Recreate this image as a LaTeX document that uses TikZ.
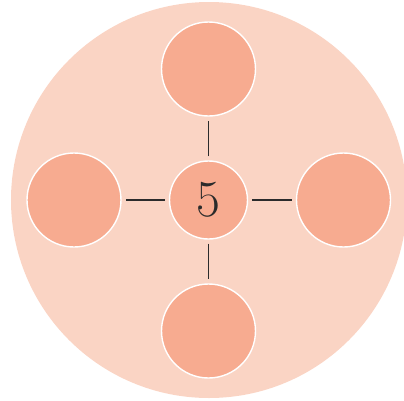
\documentclass[tikz,border=0pt]{standalone}
\usepackage{xcolor}
\usepackage{tikz}
\usetikzlibrary{positioning}
\definecolor{discpink}{HTML}{FAD4C4}
\definecolor{ballpink}{HTML}{F7AB90}
\definecolor{linegray}{HTML}{2B2B2B}

\begin{document}
\begin{tikzpicture}[x=1pt, y=1pt, every node/.style={inner sep=0pt}]
  \useasboundingbox (-208.5,-200) rectangle (195.5,200);
  \clip (-208.5,-200) rectangle (195.5,200);
  \fill[discpink] (0.5,0) circle (198);
  \tikzset{ball/.style={circle,fill=ballpink,draw=white,line width=1.4pt,minimum size=94pt}}
  \node[circle,fill=ballpink,draw=white,line width=1.4pt,minimum size=78pt,text=linegray,font=\fontsize{52}{52}\selectfont] (mid) at (0,0) {5};
  \node[ball] (top) at (0,131) {};
  \node[ball] (bot) at (0,-131) {};
  \node[ball] (lft) at (-134.5,0) {};
  \node[ball] (rgt) at (135,0) {};
  \foreach \n in {top,bot,lft,rgt}
    \draw[linegray,line width=1.4pt,shorten <=4pt,shorten >=4pt] (mid) -- (\n);
\end{tikzpicture}
\end{document}
